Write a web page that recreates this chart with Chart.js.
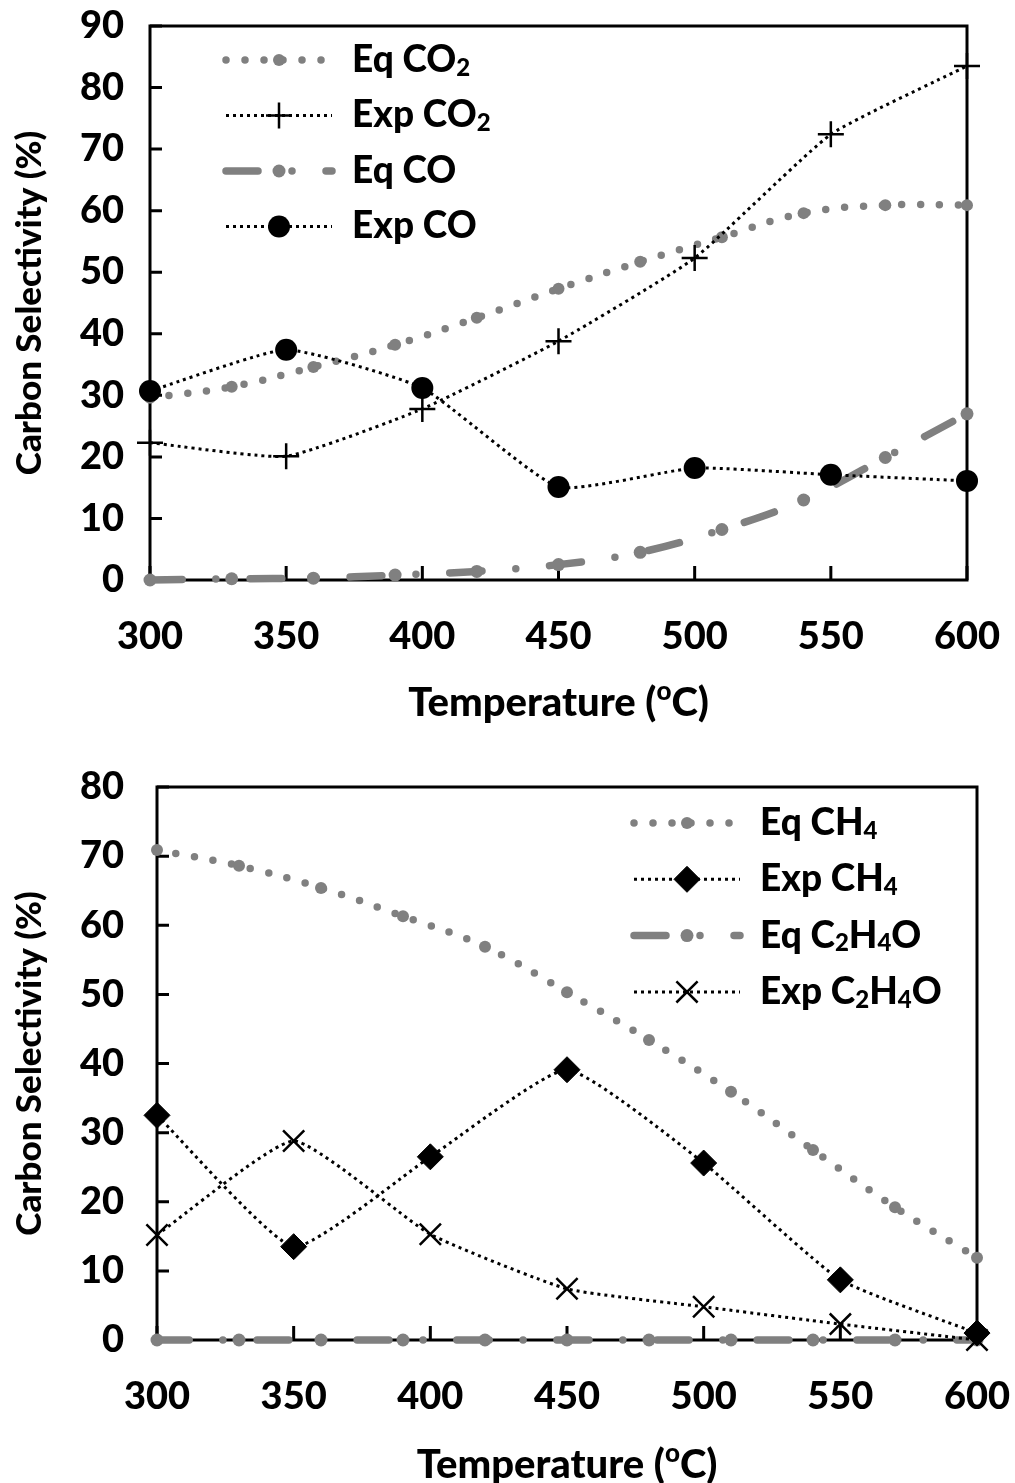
<!DOCTYPE html>
<html>
<head>
<meta charset="utf-8">
<title>Carbon selectivity vs temperature</title>
<script src="https://cdn.jsdelivr.net/npm/chart.js@4.4.0/dist/chart.umd.min.js"></script>
<style>
  html, body { margin: 0; padding: 0; background: #fff; }
  .wrap { width: 1015px; height: 1483px; }
  canvas { display: block; }
</style>
</head>
<body>
<div class="wrap">
  <canvas id="chart-co" width="1015" height="740"></canvas>
  <canvas id="chart-ch4" width="1015" height="743"></canvas>
</div>
<script>
// ---- data ----
const expTemps = [300, 350, 400, 450, 500, 550, 600];
const eqTemps = [300, 330, 360, 390, 420, 450, 480, 510, 540, 570, 600];

// upper panel (CO2 / CO)
const eqCO2 = [29.6, 31.4, 34.6, 38.2, 42.6, 47.3, 51.7, 55.7, 59.6, 60.9, 60.9];
const expCO2 = [22.3, 20.1, 27.8, 38.8, 52.3, 72.4, 83.5];
const eqCO = [0, 0.2, 0.3, 0.8, 1.4, 2.5, 4.5, 8.2, 13.0, 19.9, 27.0];
const expCO = [30.7, 37.4, 31.2, 15.1, 18.2, 17.1, 16.1];

// lower panel (CH4 / C2H4O)
const eqCH4 = [70.9, 68.6, 65.4, 61.3, 56.9, 50.3, 43.4, 35.9, 27.5, 19.2, 11.9];
const expCH4 = [32.5, 13.5, 26.5, 39.1, 25.6, 8.7, 1.0];
const eqC2H4O = [0, 0, 0, 0, 0, 0, 0, 0, 0, 0, 0];
const expC2H4O = [15.2, 28.8, 15.3, 7.4, 4.8, 2.3, 0];

const xTicks = [300, 350, 400, 450, 500, 550, 600];

const GRAY = '#808080';
const FONT = 'Lato';
const WEIGHT = '900';
const TICK_SIZE = 38;

const pts = (xs, ys) => xs.map((x, i) => ({ x, y: ys[i] }));

// ---- dataset styles ----
const eqDotted = {
  borderColor: GRAY, borderWidth: 7.5, borderDash: [0, 19], borderCapStyle: 'round',
  pointStyle: 'circle', pointRadius: 6, pointBackgroundColor: GRAY, pointBorderWidth: 0,
  tension: 0.4, order: 2
};
const eqDashDot = {
  borderColor: GRAY, borderWidth: 7.5, borderDash: [32, 34, 0, 34], borderCapStyle: 'round',
  pointStyle: 'circle', pointRadius: 6.5, pointBackgroundColor: GRAY, pointBorderWidth: 0,
  tension: 0.4, order: 2
};
const expLine = {
  borderColor: '#000', borderWidth: 3, borderDash: [3, 4],
  pointBackgroundColor: '#000', pointBorderColor: '#000',
  tension: 0.15, order: 1
};

// rich text: "_2" is drawn as subscript, "^o" as superscript
function drawRich(ctx, text, x, y, size, align) {
  const parts = text.split(/(_\w|\^\w)/).filter(s => s.length);
  const mainFont = `${WEIGHT} ${size}px ${FONT}`;
  const smallFont = `${WEIGHT} ${Math.round(size * 0.66)}px ${FONT}`;
  const isSmall = p => p[0] === '_' || p[0] === '^';
  let total = 0;
  parts.forEach(p => {
    ctx.font = isSmall(p) ? smallFont : mainFont;
    total += ctx.measureText(isSmall(p) ? p.slice(1) : p).width;
  });
  let cx = align === 'center' ? x - total / 2 : x;
  ctx.textAlign = 'left';
  ctx.textBaseline = 'middle';
  ctx.fillStyle = '#000';
  parts.forEach(p => {
    let t = p, dy = 0;
    if (p[0] === '_') { t = p.slice(1); dy = size * 0.22; ctx.font = smallFont; }
    else if (p[0] === '^') { t = p.slice(1); dy = -size * 0.28; ctx.font = smallFont; }
    else ctx.font = mainFont;
    ctx.fillText(t, cx, y + dy);
    cx += ctx.measureText(t).width;
  });
}

// frame with inside tick marks, drawn under the series
const framePlugin = {
  id: 'frame',
  beforeDatasetsDraw(chart) {
    const { ctx, chartArea: a, scales: { x, y } } = chart;
    ctx.save();
    ctx.strokeStyle = '#000';
    ctx.lineWidth = 3;
    ctx.strokeRect(a.left, a.top, a.right - a.left, a.bottom - a.top);
    ctx.beginPath();
    y.ticks.forEach(t => {
      const py = y.getPixelForValue(t.value);
      ctx.moveTo(a.left, py); ctx.lineTo(a.left + 12, py);
    });
    x.ticks.forEach(t => {
      const px = x.getPixelForValue(t.value);
      ctx.moveTo(px, a.bottom); ctx.lineTo(px, a.bottom - 14);
    });
    ctx.stroke();
    ctx.restore();
  },
  afterDraw(chart, args, opts) {
    const { ctx, chartArea: a } = chart;
    ctx.save();
    drawRich(ctx, 'Temperature (^oC)', (a.left + a.right) / 2, a.bottom + opts.xTitleGap, 40, 'center');
    ctx.translate(30, (a.top + a.bottom) / 2);
    ctx.rotate(-Math.PI / 2);
    drawRich(ctx, 'Carbon Selectivity (%)', 0, 0, 35, 'center');
    ctx.restore();
  }
};

// legend: sample line with the marker in the middle, label to the right
const lineLegendPlugin = {
  id: 'lineLegend',
  afterDraw(chart, args, opts) {
    const { ctx } = chart;
    chart.data.datasets.forEach((ds, i) => {
      const y = opts.top + i * opts.rowGap;
      const x0 = opts.left;
      ctx.save();
      ctx.strokeStyle = ds.borderColor;
      ctx.lineWidth = ds.borderWidth;
      ctx.setLineDash(ds.borderDash || []);
      ctx.lineCap = ds.borderCapStyle || 'butt';
      ctx.beginPath();
      ctx.moveTo(x0, y);
      ctx.lineTo(x0 + opts.lineLength, y);
      ctx.stroke();
      ctx.setLineDash([]);
      ctx.fillStyle = ds.pointBackgroundColor;
      ctx.strokeStyle = ds.pointBorderColor || ds.pointBackgroundColor;
      ctx.lineWidth = ds.pointBorderWidth;
      Chart.helpers.drawPoint(ctx, {
        pointStyle: ds.pointStyle, radius: ds.pointRadius, rotation: 0, borderWidth: ds.pointBorderWidth
      }, x0 + opts.lineLength / 2, y);
      ctx.restore();
      drawRich(ctx, ds.label, x0 + opts.lineLength + 20, y, 37, 'left');
    });
  }
};

function makeChart(id, datasets, cfg) {
  return new Chart(document.getElementById(id), {
    type: 'line',
    data: { datasets },
    plugins: [framePlugin, lineLegendPlugin],
    options: {
      responsive: false,
      animation: false,
      clip: false,
      layout: { padding: { left: 0, top: cfg.top, right: cfg.right, bottom: 0 } },
      plugins: {
        legend: { display: false },
        tooltip: { enabled: false },
        frame: { xTitleGap: cfg.xTitleGap },
        lineLegend: cfg.legend
      },
      scales: {
        x: {
          type: 'linear', min: 300, max: 600,
          afterBuildTicks: s => { s.ticks = xTicks.map(v => ({ value: v })); },
          // fixed axis band; end labels may hang past the plot edges
          afterFit: s => { s.height = cfg.xHeight; s.paddingLeft = 0; s.paddingRight = 0; },
          grid: { display: false, drawTicks: false },
          border: { display: false },
          ticks: { padding: 34, color: '#000', font: { family: FONT, size: TICK_SIZE, weight: WEIGHT } }
        },
        y: {
          min: 0, max: cfg.yMax,
          afterFit: s => { s.width = cfg.yWidth; s.paddingTop = 0; s.paddingBottom = 0; },
          grid: { display: false, drawTicks: false },
          border: { display: false },
          ticks: { stepSize: 10, padding: cfg.yPad, color: '#000', font: { family: FONT, size: TICK_SIZE, weight: WEIGHT } }
        }
      }
    }
  });
}

makeChart('chart-co', [
  { label: 'Eq CO_2', data: pts(eqTemps, eqCO2), ...eqDotted },
  { label: 'Exp CO_2', data: pts(expTemps, expCO2), ...expLine, pointStyle: 'cross', pointRadius: 13, pointBorderWidth: 2.5 },
  { label: 'Eq CO', data: pts(eqTemps, eqCO), ...eqDashDot },
  { label: 'Exp CO', data: pts(expTemps, expCO), ...expLine, pointStyle: 'circle', pointRadius: 11, pointBorderWidth: 0 }
], {
  top: 26, right: 48, yWidth: 150, xHeight: 160, yMax: 90, yPad: 26, xTitleGap: 123,
  legend: { left: 226, top: 60, rowGap: 55.5, lineLength: 106 }
});

makeChart('chart-ch4', [
  { label: 'Eq CH_4', data: pts(eqTemps, eqCH4), ...eqDotted },
  { label: 'Exp CH_4', data: pts(expTemps, expCH4), ...expLine, pointStyle: 'rectRot', pointRadius: 13, pointBorderWidth: 1 },
  { label: 'Eq C_2H_4O', data: pts(eqTemps, eqC2H4O), ...eqDashDot },
  { label: 'Exp C_2H_4O', data: pts(expTemps, expC2H4O), ...expLine, pointStyle: 'crossRot', pointRadius: 15, pointBorderWidth: 2.5 }
], {
  top: 47, right: 38, yWidth: 157, xHeight: 143, yMax: 80, yPad: 33, xTitleGap: 125,
  legend: { left: 634, top: 83, rowGap: 56.3, lineLength: 106 }
});
</script>
</body>
</html>
